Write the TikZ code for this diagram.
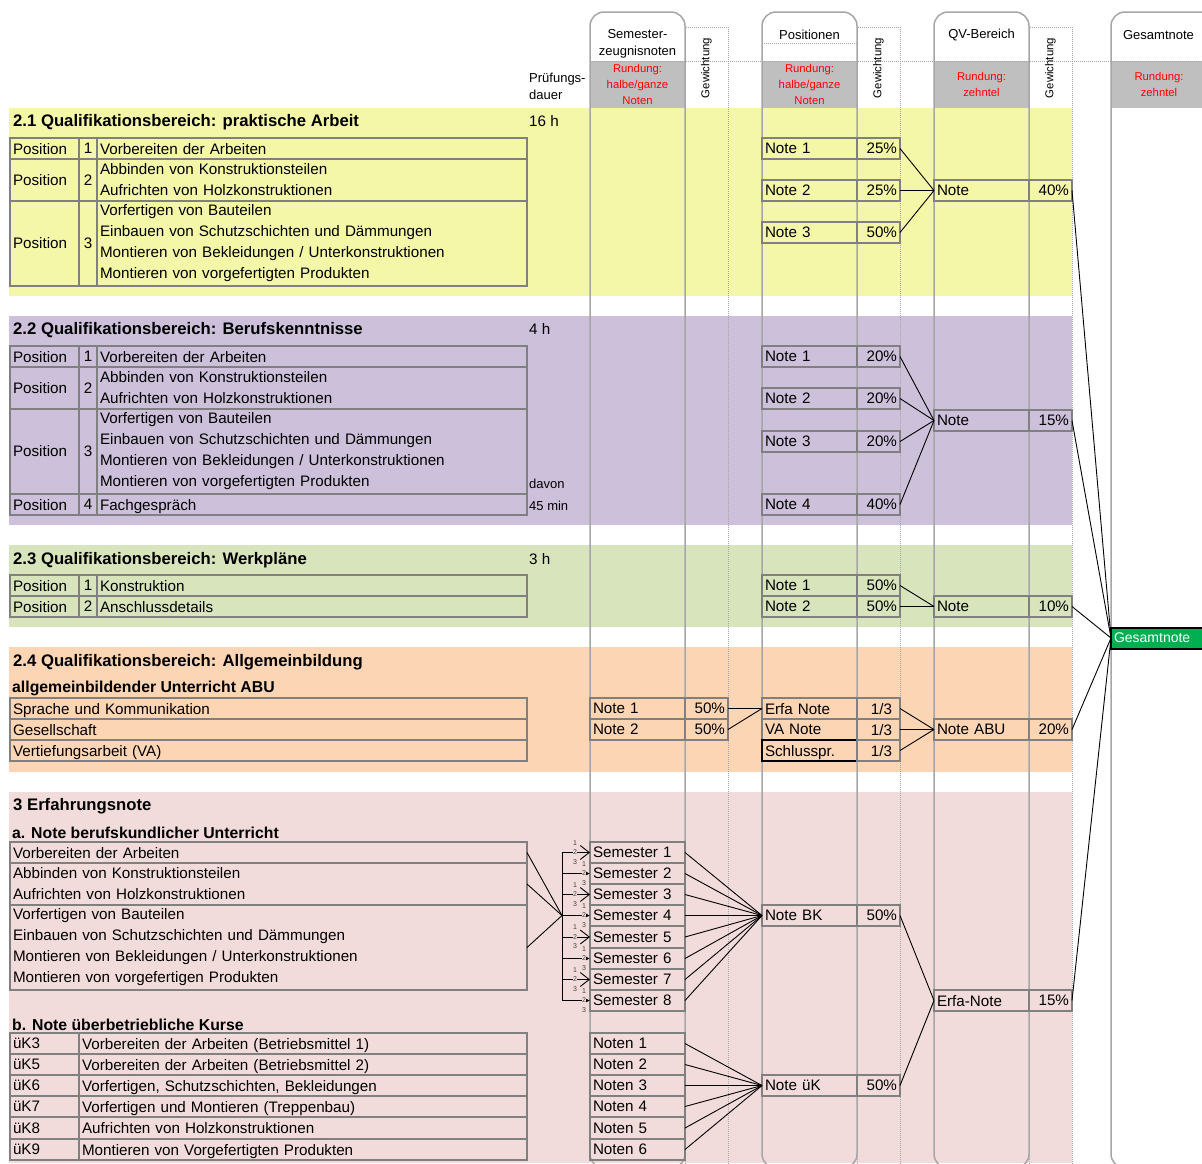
\documentclass[tikz,border=0pt]{standalone}
\usepackage{fontspec}
\setmainfont{Liberation Sans}
\usepackage{tikz}
\usetikzlibrary{positioning,arrows.meta}

\definecolor{bandyellow}{RGB}{245,247,168}
\definecolor{bandpurple}{RGB}{204,192,218}
\definecolor{bandgreen}{RGB}{216,228,188}
\definecolor{bandorange}{RGB}{252,213,180}
\definecolor{bandpink}{RGB}{242,220,219}
\definecolor{headgray}{RGB}{191,191,191}
\definecolor{cellgray}{RGB}{128,128,128}
\definecolor{colgray}{RGB}{166,166,166}
\definecolor{totalgreen}{RGB}{0,176,80}

\newcommand\tabfont{\fontsize{15.2}{21}\selectfont}
\newcommand\titlefont{\fontsize{16.7}{20}\selectfont\bfseries}
\newcommand\subfont{\fontsize{15.8}{20}\selectfont\bfseries}
\newcommand\headfont{\fontsize{13}{17}\selectfont}
\newcommand\redfont{\fontsize{11.3}{16}\selectfont}
\newcommand\weightfont{\fontsize{11.4}{13}\selectfont}
\newcommand\tinyfont{\fontsize{7}{8}\selectfont}

\tikzset{
  cell/.style={draw=cellgray, line width=1.6pt, outer sep=0pt, anchor=west,
    inner xsep=3pt, inner ysep=0pt, minimum height=21pt, text width=#1,
    align=left, font=\tabfont},
  oneline/.style={cell=#1, text depth=0pt},
  nr/.style={oneline=12pt, align=center},
  note/.style={oneline=89pt},
  pct/.style={oneline=37pt, inner xsep=3pt, align=right},
  frac/.style={oneline=27pt, inner xsep=8pt, align=right},
  total/.style={draw=black, line width=2pt, fill=totalgreen, text=white,
    font=\fontsize{14}{16}\selectfont, outer sep=0pt, anchor=west,
    inner xsep=3pt, inner ysep=0pt, minimum height=21pt, text width=100pt,
    align=left, text depth=0pt},
  headbox/.style={fill=headgray, minimum width=95pt, minimum height=47pt,
    inner sep=0pt, align=center, text=red, font=\redfont},
  headtext/.style={inner sep=0pt, align=center, font=\headfont},
  weightlabel/.style={rotate=90, inner sep=0pt, font=\weightfont},
  colbox/.style={draw=colgray, line width=1.5pt, rounded corners=14pt},
  weightbox/.style={draw=colgray, line width=1pt, densely dotted},
  title/.style={anchor=west, inner sep=0pt, font=\titlefont},
  subtitle/.style={anchor=west, inner sep=0pt, font=\subfont},
  plain/.style={anchor=west, inner sep=0pt, font=\tabfont},
  small/.style={anchor=west, inner sep=0pt, align=left, font=\headfont},
  link/.style={draw=black, line width=0.9pt},
  oddtip/.style={-{Straight Barb[length=9pt,width=14pt]}},
  eventip/.style={-{Latex[length=4pt,width=4pt]}},
  ticknum/.style={inner sep=0.3pt, font=\tinyfont, text=black!75},
  tickmid/.style={ticknum, fill=bandpink}
}

\newcommand\ticklabels[2]{%
  \node[ticknum] (#1l1) at ([shift={(#2,-9.5)}]#1.west) {1};
  \node[tickmid] (#1l2) at ([shift={(#2,0)}]#1.west) {2};
  \node[ticknum] (#1l3) at ([shift={(#2,9.5)}]#1.west) {3};}

\begin{document}
\begin{tikzpicture}[x=1pt,y=-1pt]
\useasboundingbox (0,0) rectangle (1202,1163);
\clip (0,0) rectangle (1202,1163);
%%Colour bands of the sections
\fill[bandyellow] (9,108) rectangle (1072,296);
\fill[bandpurple] (9,316) rectangle (1072,525);
\fill[bandgreen] (9,545) rectangle (1072,627);
\fill[bandorange] (9,647) rectangle (1072,772);
\fill[bandpink] (9,792) rectangle (1072,1163);
%%Grey rounding boxes
\node[headbox] (r1) at (637.5,84.5) {Rundung:\\halbe/ganze\\Noten};
\node[headbox] (r2) at (809.5,84.5) {Rundung:\\halbe/ganze\\Noten};
\node[headbox] (r3) at (981.5,84.5) {Rundung:\\zehntel};
\node[headbox, minimum width=96pt] (r4) at (1159,84.5) {Rundung:\\zehntel};
%%Columns
\draw[weightbox] (590,61) -- (1202,61);
\draw[weightbox] (762,43) -- (857,43);
\draw[colbox] (590,12) rectangle (685,1168);
\draw[colbox] (762,12) rectangle (857,1168);
\draw[colbox] (934,12) rectangle (1029,1168);
\draw[colbox] (1111,12) rectangle (1240,1168);
\draw[weightbox] (685,27) rectangle (728,1170);
\draw[weightbox] (857,27) rectangle (900,1170);
\draw[weightbox] (1029,27) rectangle (1072,1170);
%%Column heads
\node[headtext] (h1) at (637.5,43.5) {Semester-\\zeugnisnoten};
\node[headtext] (h2) at (809.5,35) {Positionen};
\node[headtext] (h3) at (981.5,35) {QV-Bereich};
\node[headtext] (h4) at (1158.5,35) {Gesamtnote};
\node[weightlabel] (wl1) at (706.5,68) {Gewichtung};
\node[weightlabel] (wl2) at (878.5,68) {Gewichtung};
\node[weightlabel] (wl3) at (1050.5,68) {Gewichtung};
\node[small] (pd) at (529,86) {Prüfungs-\\dauer};

%%2.1 praktische Arbeit
\node[title] (s1) at (13,122) {2.1 Qualifikationsbereich: praktische Arbeit};
\node[plain] (d1) at (529,121) {16 h};
\node[oneline=63pt] (p1a) at (10,148.5) {Position};
\node[nr, right=0pt of p1a] (n1a) {1};
\node[oneline=424pt, right=0pt of n1a] (t1a) {Vorbereiten der Arbeiten};
\node[cell=63pt, minimum height=42pt] (p1b) at (10,180) {Position};
\node[nr, minimum height=42pt, right=0pt of p1b] (n1b) {2};
\node[cell=424pt, minimum height=42pt, right=0pt of n1b] (t1b) {Abbinden von Konstruktionsteilen\\Aufrichten von Holzkonstruktionen};
\node[cell=63pt, minimum height=85pt] (p1c) at (10,243.5) {Position};
\node[nr, minimum height=85pt, right=0pt of p1c] (n1c) {3};
\node[cell=424pt, minimum height=85pt, right=0pt of n1c] (t1c) {Vorfertigen von Bauteilen\\Einbauen von Schutzschichten und Dämmungen\\Montieren von Bekleidungen / Unterkonstruktionen\\Montieren von vorgefertigten Produkten};
\node[note] (x1a) at (762,148.5) {Note 1};
\node[pct, right=0pt of x1a] (w1a) {25\%};
\node[note] (x1b) at (762,190.5) {Note 2};
\node[pct, right=0pt of x1b] (w1b) {25\%};
\node[note] (x1c) at (762,232.5) {Note 3};
\node[pct, right=0pt of x1c] (w1c) {50\%};
\node[note] (q1) at (934,190.5) {Note};
\node[pct, right=0pt of q1] (g1) {40\%};

%%2.2 Berufskenntnisse
\node[title] (s2) at (13,330) {2.2 Qualifikationsbereich: Berufskenntnisse};
\node[plain] (d2) at (529,329) {4 h};
\node[oneline=63pt] (p2a) at (10,356.5) {Position};
\node[nr, right=0pt of p2a] (n2a) {1};
\node[oneline=424pt, right=0pt of n2a] (t2a) {Vorbereiten der Arbeiten};
\node[cell=63pt, minimum height=42pt] (p2b) at (10,388) {Position};
\node[nr, minimum height=42pt, right=0pt of p2b] (n2b) {2};
\node[cell=424pt, minimum height=42pt, right=0pt of n2b] (t2b) {Abbinden von Konstruktionsteilen\\Aufrichten von Holzkonstruktionen};
\node[cell=63pt, minimum height=85pt] (p2c) at (10,451.5) {Position};
\node[nr, minimum height=85pt, right=0pt of p2c] (n2c) {3};
\node[cell=424pt, minimum height=85pt, right=0pt of n2c] (t2c) {Vorfertigen von Bauteilen\\Einbauen von Schutzschichten und Dämmungen\\Montieren von Bekleidungen / Unterkonstruktionen\\Montieren von vorgefertigten Produkten};
\node[oneline=63pt] (p2d) at (10,504.5) {Position};
\node[nr, right=0pt of p2d] (n2d) {4};
\node[oneline=424pt, right=0pt of n2d] (t2d) {Fachgespräch};
\node[small] (dv) at (529,484) {davon};
\node[small] (dm) at (529,505.5) {45 min};
\node[note] (x2a) at (762,356.5) {Note 1};
\node[pct, right=0pt of x2a] (w2a) {20\%};
\node[note] (x2b) at (762,398.5) {Note 2};
\node[pct, right=0pt of x2b] (w2b) {20\%};
\node[note] (x2c) at (762,441.5) {Note 3};
\node[pct, right=0pt of x2c] (w2c) {20\%};
\node[note] (x2d) at (762,504.5) {Note 4};
\node[pct, right=0pt of x2d] (w2d) {40\%};
\node[note] (q2) at (934,420.5) {Note};
\node[pct, right=0pt of q2] (g2) {15\%};

%%2.3 Werkplaene
\node[title] (s3) at (13,560) {2.3 Qualifikationsbereich: Werkpläne};
\node[plain] (d3) at (529,559) {3 h};
\node[oneline=63pt] (p3a) at (10,585.5) {Position};
\node[nr, right=0pt of p3a] (n3a) {1};
\node[oneline=424pt, right=0pt of n3a] (t3a) {Konstruktion};
\node[oneline=63pt] (p3b) at (10,606.5) {Position};
\node[nr, right=0pt of p3b] (n3b) {2};
\node[oneline=424pt, right=0pt of n3b] (t3b) {Anschlussdetails};
\node[note] (x3a) at (762,585.5) {Note 1};
\node[pct, right=0pt of x3a] (w3a) {50\%};
\node[note] (x3b) at (762,606.5) {Note 2};
\node[pct, right=0pt of x3b] (w3b) {50\%};
\node[note] (q3) at (934,606.5) {Note};
\node[pct, right=0pt of q3] (g3) {10\%};

%%Gesamtnote
\node[total] (total) at (1111,638) {Gesamtnote};

%%2.4 Allgemeinbildung
\node[title] (s4) at (13,662) {2.4 Qualifikationsbereich: Allgemeinbildung};
\node[subtitle] (u4) at (12,688.5) {allgemeinbildender Unterricht ABU};
\node[oneline=511pt] (t4a) at (10,708.5) {Sprache und Kommunikation};
\node[oneline=511pt] (t4b) at (10,729.5) {Gesellschaft};
\node[oneline=511pt] (t4c) at (10,750.5) {Vertiefungsarbeit (VA)};
\node[note] (s4a) at (590,708.5) {Note 1};
\node[pct, right=0pt of s4a] (v4a) {50\%};
\node[note] (s4b) at (590,729.5) {Note 2};
\node[pct, right=0pt of s4b] (v4b) {50\%};
\node[note] (x4a) at (762,708.5) {Erfa Note};
\node[frac, right=0pt of x4a] (w4a) {1/3};
\node[note] (x4b) at (762,729.5) {VA Note};
\node[frac, right=0pt of x4b] (w4b) {1/3};
\node[note, draw=black] (x4c) at (762,750.5) {Schlusspr.};
\node[frac, right=0pt of x4c] (w4c) {1/3};
\node[note] (q4) at (934,729.5) {Note ABU};
\node[pct, right=0pt of q4] (g4) {20\%};

%%3 Erfahrungsnote
\node[title] (s5) at (13,806) {3 Erfahrungsnote};
\node[subtitle] (u5) at (12,832.5) {a. Note berufskundlicher Unterricht};
\node[oneline=511pt] (t5a) at (10,852.5) {Vorbereiten der Arbeiten};
\node[cell=511pt, minimum height=42pt] (t5b) at (10,884) {Abbinden von Konstruktionsteilen\\Aufrichten von Holzkonstruktionen};
\node[cell=511pt, minimum height=85pt] (t5c) at (10,947.5) {Vorfertigen von Bauteilen\\Einbauen von Schutzschichten und Dämmungen\\Montieren von Bekleidungen / Unterkonstruktionen\\Montieren von vorgefertigen Produkten};
\coordinate (j5) at (562,915.5);
\node[note] (sem1) at (590,852.5) {Semester 1};
\node[note] (sem2) at (590,873.5) {Semester 2};
\node[note] (sem3) at (590,894.5) {Semester 3};
\node[note] (sem4) at (590,915.5) {Semester 4};
\node[note] (sem5) at (590,937) {Semester 5};
\node[note] (sem6) at (590,958.5) {Semester 6};
\node[note] (sem7) at (590,979.5) {Semester 7};
\node[note] (sem8) at (590,1000.5) {Semester 8};
\node[note] (bk) at (762,915.5) {Note BK};
\node[pct, right=0pt of bk] (wbk) {50\%};
\node[note] (q5) at (934,1000.5) {Erfa-Note};
\node[pct, right=0pt of q5] (g5) {15\%};
\node[subtitle] (u6) at (12,1024.5) {b. Note überbetriebliche Kurse};
\node[oneline=63pt] (k1) at (10,1043.5) {üK3};
\node[oneline=442pt, right=0pt of k1] (t6a) {Vorbereiten der Arbeiten (Betriebsmittel 1)};
\node[oneline=63pt] (k2) at (10,1064.5) {üK5};
\node[oneline=442pt, right=0pt of k2] (t6b) {Vorbereiten der Arbeiten (Betriebsmittel 2)};
\node[oneline=63pt] (k3) at (10,1085.5) {üK6};
\node[oneline=442pt, right=0pt of k3] (t6c) {Vorfertigen, Schutzschichten, Bekleidungen};
\node[oneline=63pt] (k4) at (10,1106.5) {üK7};
\node[oneline=442pt, right=0pt of k4] (t6d) {Vorfertigen und Montieren (Treppenbau)};
\node[oneline=63pt] (k5) at (10,1128) {üK8};
\node[oneline=442pt, right=0pt of k5] (t6e) {Aufrichten von Holzkonstruktionen};
\node[oneline=63pt] (k6) at (10,1149.5) {üK9};
\node[oneline=442pt, right=0pt of k6] (t6f) {Montieren von Vorgefertigten Produkten};
\node[note] (nt1) at (590,1043.5) {Noten 1};
\node[note] (nt2) at (590,1064.5) {Noten 2};
\node[note] (nt3) at (590,1085.5) {Noten 3};
\node[note] (nt4) at (590,1106.5) {Noten 4};
\node[note] (nt5) at (590,1128) {Noten 5};
\node[note] (nt6) at (590,1149.5) {Noten 6};
\node[note] (uk) at (762,1085.5) {Note üK};
\node[pct, right=0pt of uk] (wuk) {50\%};

%%Draw the connectors
\draw[link]
(w1a.east) edge (q1.west)
(w1b.east) edge (q1.west)
(w1c.east) edge (q1.west)
(w2a.east) edge (q2.west)
(w2b.east) edge (q2.west)
(w2c.east) edge (q2.west)
(w2d.east) edge (q2.west)
(w3a.east) edge (q3.west)
(w3b.east) edge (q3.west)
(v4a.east) edge (x4a.west)
(v4b.east) edge (x4a.west)
(w4a.east) edge (q4.west)
(w4b.east) edge (q4.west)
(w4c.east) edge (q4.west);
%%Into the Gesamtnote
\draw[link]
(g1.east) edge (total.west)
(g2.east) edge (total.west)
(g3.east) edge (total.west)
(g4.east) edge (total.west)
(g5.east) edge (total.west);
%%Berufskunde to the semesters
\draw[link]
(t5a.east) edge (j5)
(t5b.east) edge (j5)
(t5c.east) edge (j5)
(j5 |- sem1) edge (j5 |- sem8);
\draw[link,oddtip] (j5 |- sem1) -- (sem1.west);
\draw[link,eventip] (j5 |- sem2) -- (sem2.west);
\draw[link,oddtip] (j5 |- sem3) -- (sem3.west);
\draw[link,eventip] (j5 |- sem4) -- (sem4.west);
\draw[link,oddtip] (j5 |- sem5) -- (sem5.west);
\draw[link,eventip] (j5 |- sem6) -- (sem6.west);
\draw[link,oddtip] (j5 |- sem7) -- (sem7.west);
\draw[link,eventip] (j5 |- sem8) -- (sem8.west);
\ticklabels{sem1}{-15}
\ticklabels{sem2}{-6}
\ticklabels{sem3}{-15}
\ticklabels{sem4}{-6}
\ticklabels{sem5}{-15}
\ticklabels{sem6}{-6}
\ticklabels{sem7}{-15}
\ticklabels{sem8}{-6}
%%Semesters and courses to their notes
\draw[link]
(sem1.east) edge (bk.west)
(sem2.east) edge (bk.west)
(sem3.east) edge (bk.west)
(sem4.east) edge (bk.west)
(sem5.east) edge (bk.west)
(sem6.east) edge (bk.west)
(sem7.east) edge (bk.west)
(sem8.east) edge (bk.west)
(nt1.east) edge (uk.west)
(nt2.east) edge (uk.west)
(nt3.east) edge (uk.west)
(nt4.east) edge (uk.west)
(nt5.east) edge (uk.west)
(nt6.east) edge (uk.west)
(wbk.east) edge (q5.west)
(wuk.east) edge (q5.west);
\end{tikzpicture}
\end{document}
